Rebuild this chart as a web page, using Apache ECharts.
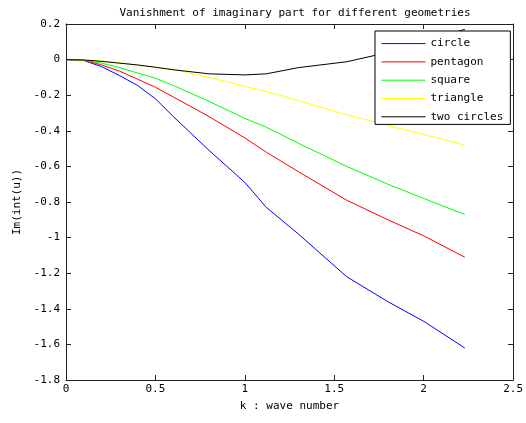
<!DOCTYPE html>
<html>
<head>
<meta charset="utf-8">
<script src="https://cdn.jsdelivr.net/npm/echarts@6/dist/echarts.min.js"></script>
<style>
  html, body { margin: 0; padding: 0; background: #fff; }
  #chart { width: 526px; height: 423px; }
</style>
</head>
<body>
<div id="chart"></div>
<script>
const kValues = [0, 0.1, 0.2, 0.3, 0.4, 0.5, 0.6, 0.8, 1.0, 1.12, 1.3, 1.57, 1.8, 2.0, 2.23];

const circle    = [0, -0.005, -0.04, -0.09, -0.145, -0.22, -0.32, -0.51, -0.69, -0.83, -0.98, -1.22, -1.36, -1.47, -1.62];
const pentagon  = [0, -0.004, -0.03, -0.065, -0.11, -0.155, -0.21, -0.32, -0.44, -0.52, -0.63, -0.79, -0.9, -0.99, -1.11];
const square    = [0, -0.003, -0.02, -0.045, -0.075, -0.105, -0.145, -0.235, -0.33, -0.38, -0.47, -0.6, -0.7, -0.78, -0.87];
const triangle  = [0, -0.002, -0.008, -0.018, -0.03, -0.042, -0.056, -0.1, -0.15, -0.18, -0.23, -0.31, -0.37, -0.42, -0.48];
const twoCircle = [0, -0.002, -0.01, -0.02, -0.03, -0.043, -0.057, -0.08, -0.086, -0.08, -0.045, -0.012, 0.04, 0.1, 0.17];

const seriesNames = ["circle", "pentagon", "square", "triangle", "two circles"];
const seriesData = [circle, pentagon, square, triangle, twoCircle];
const colors = ["#0000ff", "#ff0000", "#00ff00", "#ffff00", "#000000"];

const font = "DejaVu Sans Mono";
const chart = echarts.init(document.getElementById("chart"));

function mkLine(values, i) {
  return {
    name: seriesNames[i],
    type: "line",
    data: kValues.map((k, j) => [k, values[j]]),
    symbol: "none",
    smooth: false,
    lineStyle: { color: colors[i], width: 1 },
    itemStyle: { color: colors[i] },
    emphasis: { disabled: true },
  };
}

const tickStyle = { show: true, inside: true, length: 5, lineStyle: { color: "#222" } };
const lineStyle = { show: true, onZero: false, lineStyle: { color: "#222", width: 1 } };

let option = {
  animation: false,
  backgroundColor: "#fff",
  color: colors,
  title: {
    text: "Vanishment of imaginary part for different geometries",
    left: 290,
    textAlign: "center",
    top: 3,
    textStyle: { fontFamily: font, fontSize: 11, fontWeight: "normal", color: "#000" },
  },
  grid: { left: 66, right: 11, top: 24, bottom: 43 },
  legend: {
    data: seriesNames,
    orient: "vertical",
    left: 375,
    top: 31,
    padding: [7, 7, 2, 6],
    itemGap: 7.1,
    itemWidth: 44,
    itemHeight: 14,
    itemStyle: { opacity: 0 },
    lineStyle: { width: 1 },
    backgroundColor: "#fff",
    borderColor: "#000",
    borderWidth: 1,
    borderRadius: 0,
    textStyle: { fontFamily: font, fontSize: 11, color: "#000" },
  },
  xAxis: [
    {
      type: "value",
      min: 0,
      max: 2.5,
      interval: 0.5,
      name: "k : wave number",
      nameLocation: "middle",
      nameGap: 21,
      nameTextStyle: { fontFamily: font, fontSize: 11, color: "#000" },
      axisLine: lineStyle,
      axisTick: tickStyle,
      splitLine: { show: false },
      axisLabel: { fontFamily: font, fontSize: 11, color: "#000", margin: 4 },
    },
    {
      type: "value",
      position: "top",
      min: 0,
      max: 2.5,
      interval: 0.5,
      axisLine: lineStyle,
      axisTick: tickStyle,
      splitLine: { show: false },
      axisLabel: { show: false },
    },
  ],
  yAxis: [
    {
      type: "value",
      min: -1.8,
      max: 0.2,
      interval: 0.2,
      name: "Im(int(u))",
      nameLocation: "middle",
      nameRotate: 90,
      nameGap: 33,
      nameTextStyle: { fontFamily: font, fontSize: 11, color: "#000" },
      axisLine: lineStyle,
      axisTick: tickStyle,
      splitLine: { show: false },
      axisLabel: {
        fontFamily: font,
        fontSize: 11,
        color: "#000",
        margin: 6,
        formatter: (v) => String(Math.round(v * 10) / 10),
      },
    },
    {
      type: "value",
      position: "right",
      min: -1.8,
      max: 0.2,
      interval: 0.2,
      axisLine: lineStyle,
      axisTick: tickStyle,
      splitLine: { show: false },
      axisLabel: { show: false },
    },
  ],
  series: seriesData.map(mkLine),
};

chart.setOption(option);
</script>
</body>
</html>
